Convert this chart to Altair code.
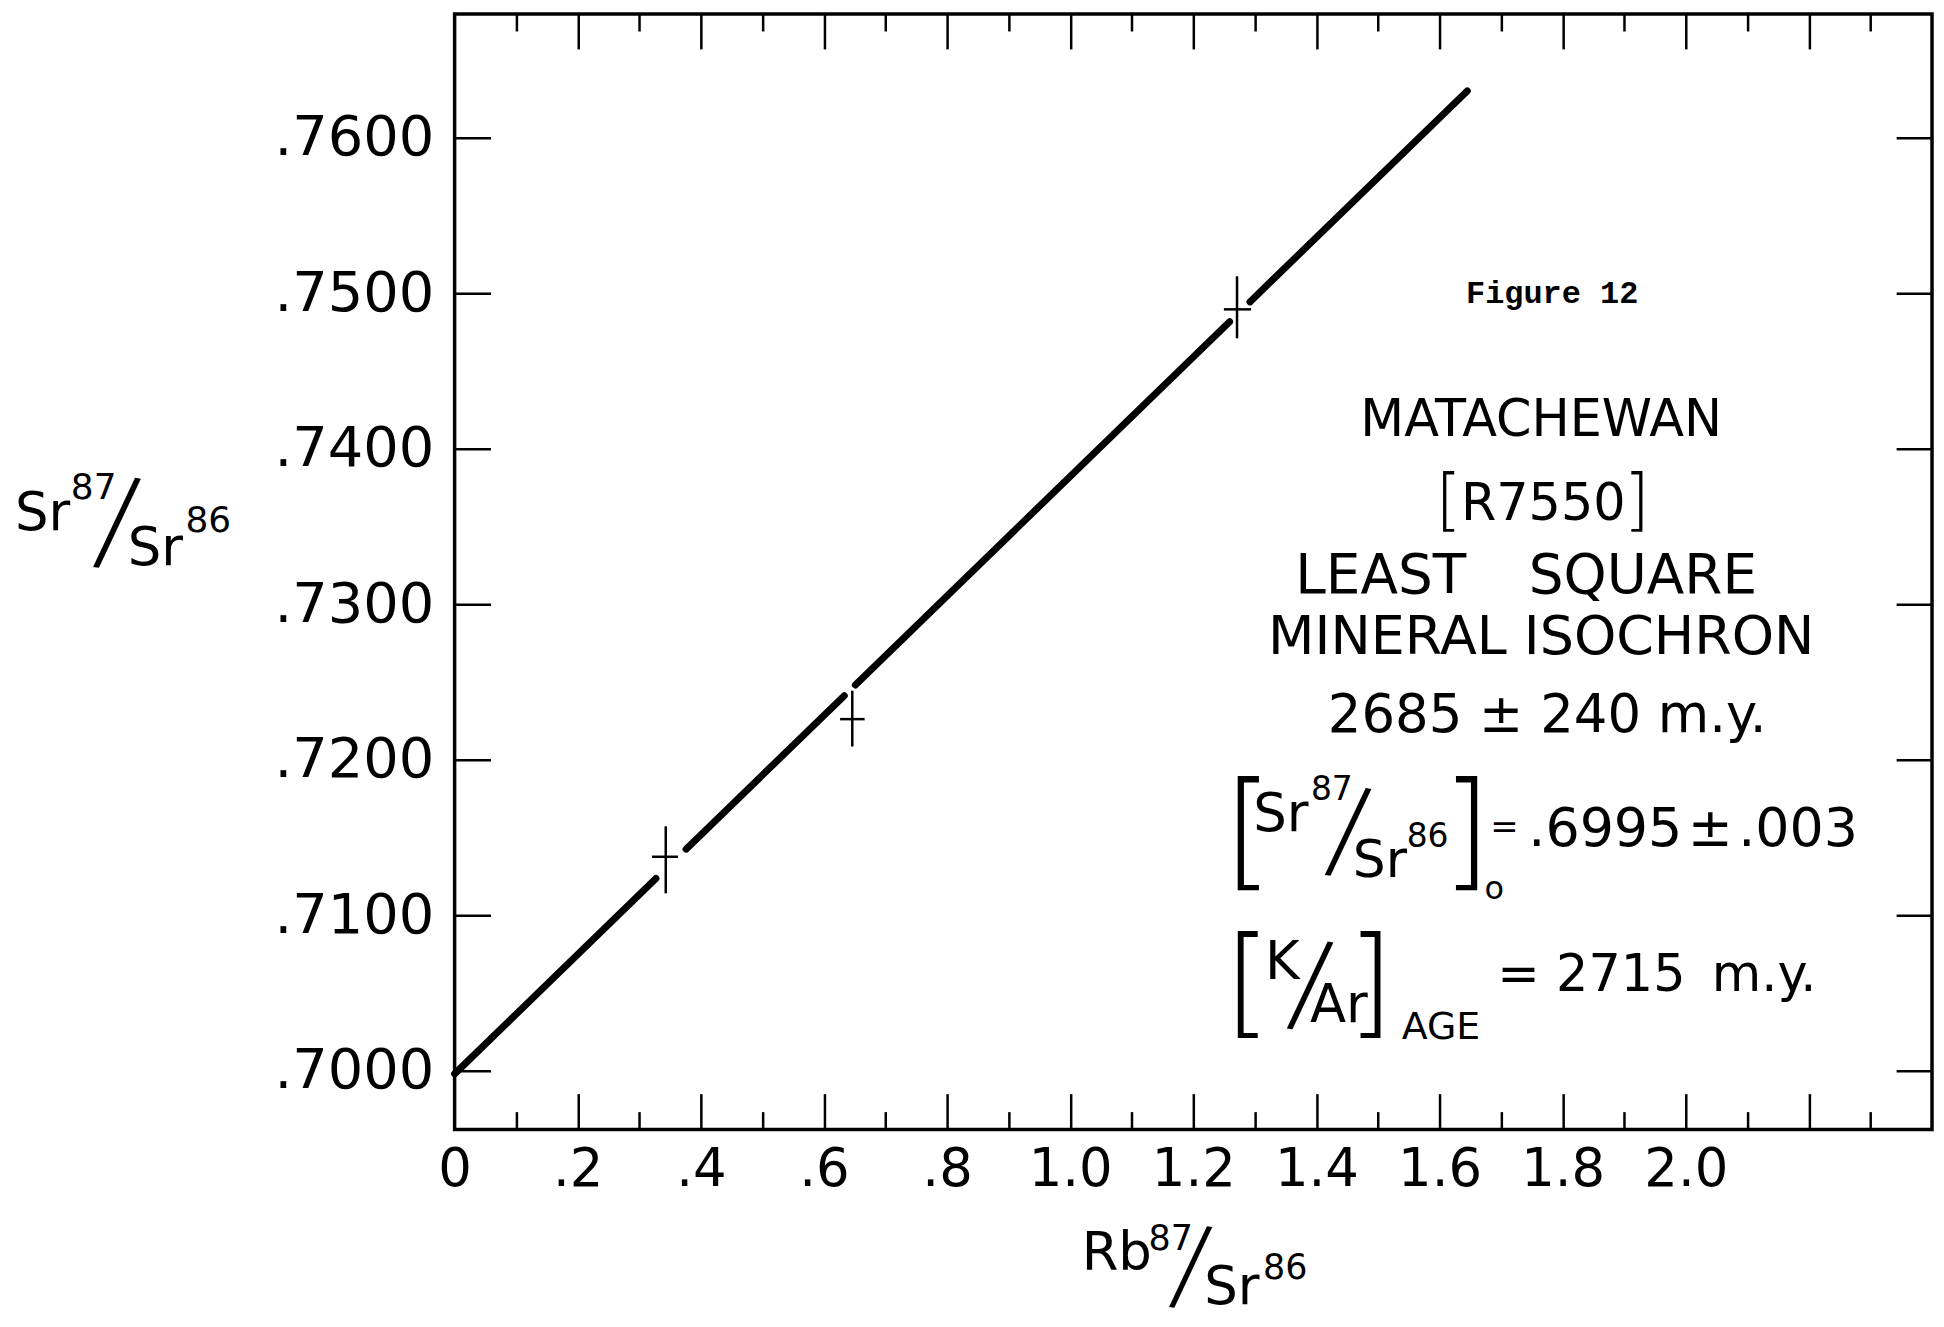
import altair as alt
import pandas as pd

# ---------------- data ----------------
# least-squares isochron drawn as segments, broken around each point
seg_x0 = [0.000, 0.376, 0.651, 1.292]
seg_x1 = [0.327, 0.633, 1.259, 1.645]
seg_y0 = [0.69980, 0.71425, 0.72481, 0.74944]
seg_y1 = [0.71236, 0.72412, 0.74817, 0.76300]

# mineral data points (crosses = error bars)
pt_x = [0.343, 0.646, 1.271]
pt_y = [0.71376, 0.72261, 0.74896]
pt_x_lo = [0.3206, 0.6262, 1.2497]
pt_x_hi = [0.3628, 0.6661, 1.2939]
pt_y_lo = [0.71141, 0.72085, 0.74710]
pt_y_hi = [0.71572, 0.72444, 0.75109]

# axis ticks / labels
x_label_values = [0.0, 0.2, 0.4, 0.6, 0.8, 1.0, 1.2, 1.4, 1.6, 1.8, 2.0]
x_tick_values = [0.1, 0.2, 0.3, 0.4, 0.5, 0.6, 0.7, 0.8, 0.9, 1.0, 1.1, 1.2,
                 1.3, 1.4, 1.5, 1.6, 1.7, 1.8, 1.9, 2.0, 2.1, 2.2, 2.3]
y_tick_values = [0.70, 0.71, 0.72, 0.73, 0.74, 0.75, 0.76]

# ---------------- layout ----------------
W, H = 1482, 1119
FONT = "DejaVu Sans"
xs = alt.Scale(domain=[0, 2.4], nice=False, zero=False)
ys = alt.Scale(domain=[0.69622, 0.76795], nice=False, zero=False)

segs = pd.DataFrame({"x0": seg_x0, "x1": seg_x1, "y0": seg_y0, "y1": seg_y1})
pts = pd.DataFrame({"x": pt_x, "y": pt_y, "xlo": pt_x_lo, "xhi": pt_x_hi,
                    "ylo": pt_y_lo, "yhi": pt_y_hi})

major_test = "round(datum.value * 10) % 2 == 0"

ax_x_labels = alt.Axis(orient="bottom", values=x_label_values, ticks=False, domain=False,
                       grid=False, labelFont=FONT, labelFontSize=53, labelColor="black",
                       labelPadding=14, labelFlush=False, labelOverlap=False, labelBound=False,
                       labelExpr="datum.value == 0 ? '0' : (datum.value < 1 ? replace(format(datum.value, '.1f'), '0.', '.') : format(datum.value, '.1f'))",
                       title=None)
ax_x_ticks_bottom = alt.Axis(orient="top", offset=-H, values=x_tick_values, labels=False,
                             domain=False, grid=False, tickColor="black", tickWidth=2.5,
                             tickSize={"condition": {"test": major_test, "value": 36}, "value": 18},
                             title=None)
ax_x_ticks_top = alt.Axis(orient="bottom", offset=-H, values=x_tick_values, labels=False,
                          domain=False, grid=False, tickColor="black", tickWidth=2.5,
                          tickSize={"condition": {"test": major_test, "value": 35}, "value": 17},
                          title=None)

ax_y_labels = alt.Axis(orient="left", values=y_tick_values, ticks=False, domain=False,
                       grid=False, labelFont=FONT, labelFontSize=56, labelColor="black",
                       labelPadding=21, labelFlush=False, labelOverlap=False, labelBound=False,
                       labelExpr="replace(format(datum.value, '.4f'), '0.', '.')",
                       title=None)
ax_y_ticks_left = alt.Axis(orient="right", offset=-W, values=y_tick_values, labels=False,
                           domain=False, grid=False, tickColor="black", tickWidth=2.5,
                           tickSize=36, title=None)
ax_y_ticks_right = alt.Axis(orient="left", offset=-W, values=y_tick_values, labels=False,
                            domain=False, grid=False, tickColor="black", tickWidth=2.5,
                            tickSize=36, title=None)

line = alt.Chart(segs).mark_rule(color="black", strokeWidth=7, strokeCap="round").encode(
    x=alt.X("x0:Q", scale=xs, axis=ax_x_labels),
    x2="x1",
    y=alt.Y("y0:Q", scale=ys, axis=ax_y_labels),
    y2="y1",
)

vbars = alt.Chart(pts).mark_rule(color="black", strokeWidth=2.5).encode(
    x=alt.X("x:Q", scale=xs, axis=ax_x_ticks_bottom),
    y=alt.Y("ylo:Q", scale=ys, axis=ax_y_ticks_left),
    y2="yhi",
)

hbars = alt.Chart(pts).mark_rule(color="black", strokeWidth=2.5).encode(
    x=alt.X("xlo:Q", scale=xs, axis=ax_x_ticks_top),
    x2="xhi",
    y=alt.Y("y:Q", scale=ys, axis=ax_y_ticks_right),
)

one = alt.Data(values=[{"a": 1}])


def txt(s, x, y, size, font=FONT, align="left", baseline="alphabetic",
        weight="normal", angle=0):
    return alt.Chart(one).mark_text(
        text=s, font=font, fontSize=size, align=align, baseline=baseline,
        fontWeight=weight, angle=angle, color="black"
    ).encode(x=alt.value(x), y=alt.value(y))


texts = [
    # y axis title  Sr87/Sr86
    txt("Sr", -441, 518, 53),
    txt("87", -385, 486, 36),
    txt("/", -339, 512, 115, align="center", baseline="middle", weight=200, angle=8),
    txt("Sr", -328, 553, 53),
    txt("86", -270, 520, 36),
    # x axis title  Rb87/Sr86
    txt("Rb", 629, 1260, 53),
    txt("87", 696, 1240, 35),
    txt("/", 738, 1259, 104, align="center", baseline="middle", weight=200, angle=8),
    txt("Sr", 752, 1294, 53),
    txt("86", 811, 1269, 35),
    # annotation block
    txt("Figure 12", 1101, 290, 32, font="Liberation Mono", align="center", weight="bold"),
    txt("MATACHEWAN", 1090, 423, 51, align="center"),
    txt("[", 984, 511, 67, weight=200),
    txt("R7550", 1092, 508, 51, align="center"),
    txt("]", 1199, 511, 67, align="right", weight=200),
    txt("LEAST", 929, 581, 55, align="center"),
    txt("SQUARE", 1192, 581, 55, align="center"),
    txt("MINERAL ISOCHRON", 1090, 642, 54, align="center"),
    txt("2685 ± 240 m.y.", 1096, 720, 53, align="center"),
    # [Sr87/Sr86]o = .6995 ± .003
    txt("[", 771, 863, 128, weight=200),
    txt("Sr", 801, 820, 53),
    txt("87", 859, 788, 33),
    txt("/", 896, 822, 112, align="center", baseline="middle", weight=200, angle=8),
    txt("Sr", 901, 866, 52),
    txt("86", 955, 836, 33),
    txt("]", 1040, 863, 128, align="right", weight=200),
    txt("o", 1033, 888, 32),
    txt("=", 1053, 827, 34, align="center"),
    txt(".6995\u200a±\u200a.003", 1077, 835, 54),
    # [K/Ar]AGE = 2715 m.y.
    txt("[", 772, 1011, 120, weight=200),
    txt("K", 813, 968, 53),
    txt("/", 858, 976, 112, align="center", baseline="middle", weight=200, angle=8),
    txt("Ar", 858, 1011, 53),
    txt("]", 942, 1011, 120, align="right", weight=200),
    txt("AGE", 950, 1028, 38),
    txt("= 2715\u2009 m.y.", 1046, 980, 51),
]

chart = alt.layer(line, vbars, hbars, *texts).resolve_axis(
    x="independent", y="independent"
).properties(
    width=W, height=H, autosize="none",
    padding={"left": 448, "top": 4, "right": 4, "bottom": 188},
    background="white",
).configure_view(stroke="black", strokeWidth=3.5)

chart.save("out.html", embed_options={"renderer": "svg", "actions": False})
